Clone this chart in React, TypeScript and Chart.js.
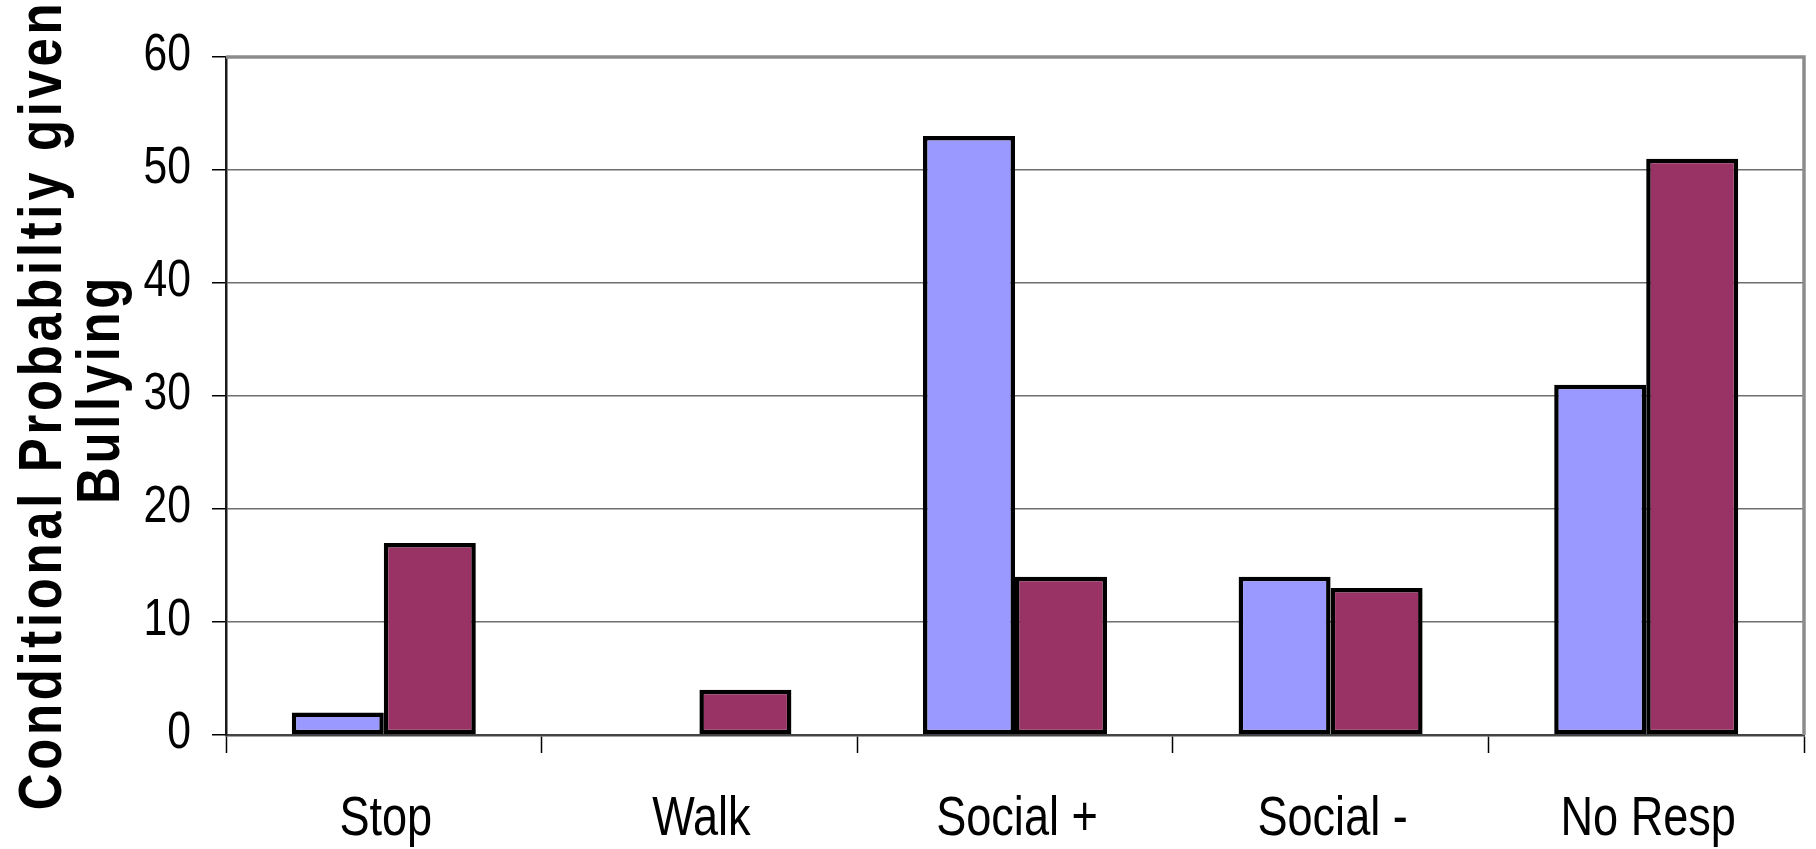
import React, { useEffect, useRef } from "react";
import { Chart, registerables } from "chart.js";

Chart.register(...registerables);

// Response categories along the x axis
const categories = ["Stop", "Walk", "Social +", "Social -", "No Resp"];
// Conditional probabilities (percent) for the two groups
const seriesBlue = [2, 0, 53, 14, 31];
const seriesMaroon = [17, 4, 14, 13, 51];
// Value axis range
const yMin = 0;
const yMax = 60;
const yStep = 10;
// Rotated axis title, two lines
const yTitleLines = ["Conditional Probabiltiy given", "Bullying"];

const W = 1816;
const H = 849;
const PLOT_LEFT = 226;
const PLOT_RIGHT = 1804;
const PLOT_TOP = 57;
const PLOT_BOTTOM = 735;

const sans = "'Liberation Sans', Arial, sans-serif";
// horizontal squeeze that gives the narrow typeface look
const NARROW = 0.82;

// Draws the grey frame on the top and right sides of the plot area
const frameBorder = {
  id: "frameBorder",
  afterDatasetsDraw(chart: any) {
    const { ctx, chartArea } = chart;
    ctx.save();
    ctx.strokeStyle = "#8c8c8c";
    ctx.lineWidth = 3.5;
    ctx.beginPath();
    ctx.moveTo(chartArea.left, chartArea.top);
    ctx.lineTo(chartArea.right, chartArea.top);
    ctx.lineTo(chartArea.right, chartArea.bottom);
    ctx.stroke();
    ctx.restore();
  },
};

// Narrow tick labels placed from the chart's own scales
const narrowTickLabels = {
  id: "narrowTickLabels",
  afterDraw(chart: any) {
    const { ctx } = chart;
    const xs = chart.scales.x;
    const ys = chart.scales.y;
    ctx.save();
    ctx.fillStyle = "#000";

    ctx.font = `55px ${sans}`;
    ctx.textAlign = "center";
    ctx.textBaseline = "alphabetic";
    xs.ticks.forEach((_t: any, i: number) => {
      const x = xs.getPixelForTick(i);
      const label = String(xs.getLabelForValue(xs.ticks[i].value));
      ctx.save();
      ctx.translate(x + 2, xs.top + 100);
      ctx.scale(NARROW, 1);
      ctx.fillText(label, 0, 0);
      ctx.restore();
    });

    ctx.font = `52px ${sans}`;
    ctx.textAlign = "right";
    ys.ticks.forEach((t: any) => {
      const y = ys.getPixelForValue(t.value);
      ctx.save();
      ctx.translate(ys.right - 35, y + 13);
      ctx.scale(NARROW, 1);
      ctx.fillText(String(t.value), 0, 0);
      ctx.restore();
    });
    ctx.restore();
  },
};

// Letter-spaced bold title along the value axis
const yAxisTitle = {
  id: "yAxisTitle",
  afterDraw(chart: any) {
    const { ctx } = chart;
    const placements = [
      { x: 61, y: 405 },
      { x: 119, y: 389 },
    ];
    ctx.save();
    ctx.fillStyle = "#000";
    ctx.font = `bold 62px ${sans}`;
    ctx.textAlign = "center";
    ctx.textBaseline = "alphabetic";
    (ctx as any).letterSpacing = "4.5px";
    yTitleLines.forEach((line, i) => {
      const p = placements[i];
      ctx.save();
      ctx.translate(p.x, p.y);
      ctx.rotate(-Math.PI / 2);
      ctx.scale(NARROW, 1);
      ctx.fillText(line, 0, 0);
      ctx.restore();
    });
    ctx.restore();
  },
};

export default function App() {
  const canvasRef = useRef<HTMLCanvasElement | null>(null);

  useEffect(() => {
    document.body.style.margin = "0";
    document.body.style.overflow = "hidden";
    const canvas = canvasRef.current;
    if (!canvas) return;

    const chart = new Chart(canvas, {
      type: "bar",
      data: {
        labels: categories,
        datasets: [
          {
            label: "Group 1",
            data: seriesBlue,
            backgroundColor: "#9999ff",
            borderColor: "#000",
            borderWidth: 4.5,
            borderSkipped: false,
            categoryPercentage: 0.583,
            barPercentage: 1,
          },
          {
            label: "Group 2",
            data: seriesMaroon,
            backgroundColor: "#993366",
            borderColor: "#000",
            borderWidth: 4.5,
            borderSkipped: false,
            categoryPercentage: 0.583,
            barPercentage: 1,
          },
        ],
      },
      options: {
        animation: false,
        responsive: false,
        maintainAspectRatio: false,
        layout: {
          padding: { left: 0, top: PLOT_TOP, right: W - PLOT_RIGHT, bottom: 0 },
        },
        plugins: {
          legend: { display: false },
          title: { display: false },
          tooltip: { enabled: false },
        },
        scales: {
          x: {
            type: "category",
            offset: true,
            afterFit(scale: any) {
              scale.height = H - PLOT_BOTTOM;
            },
            grid: {
              offset: true,
              drawOnChartArea: false,
              drawTicks: true,
              tickLength: 18,
              tickColor: "#000",
              tickWidth: 1.5,
            },
            border: { display: true, color: "#444", width: 2.5 },
            ticks: { display: false, autoSkip: false },
          },
          y: {
            min: yMin,
            max: yMax,
            afterFit(scale: any) {
              scale.width = PLOT_LEFT;
            },
            grid: {
              color: "#6e6e6e",
              lineWidth: 1.5,
              drawTicks: true,
              tickLength: 14,
              tickColor: "#000",
              tickWidth: 1.5,
            },
            border: { display: true, color: "#1a1a1a", width: 2.5 },
            ticks: { display: false, stepSize: yStep },
          },
        },
      },
      plugins: [frameBorder, narrowTickLabels, yAxisTitle],
    });

    return () => chart.destroy();
  }, []);

  return (
    <div style={{ width: W, height: H, position: "relative" }}>
      <canvas ref={canvasRef} width={W} height={H} style={{ display: "block", width: W, height: H }} />
    </div>
  );
}
